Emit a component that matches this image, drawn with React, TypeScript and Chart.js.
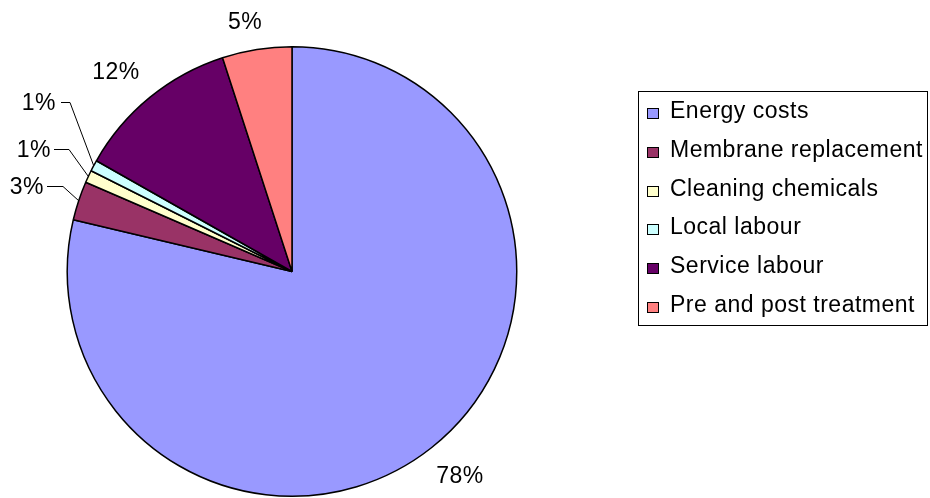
import React, { useEffect, useRef } from "react";
import { Chart, registerables } from "chart.js";

Chart.register(...registerables);

const categories = [
  "Energy costs",
  "Membrane replacement",
  "Cleaning chemicals",
  "Local labour",
  "Service labour",
  "Pre and post treatment",
];
const values = [78.7, 2.8, 0.9, 0.8, 11.8, 5.0];
const percentLabels = ["78%", "3%", "1%", "1%", "12%", "5%"];
const colors = ["#9999FF", "#993366", "#FFFFCC", "#CCFFFF", "#660066", "#FF8080"];

const FONT = '23px "Liberation Sans", Arial, sans-serif';

// label placement relative to pie centre (layout only)
const labelPlacement: Record<number, any> = {
  0: { dx: 168, dy: 211, align: "center" },
  1: { dx: -248, dy: -78, align: "right", lineStart: -245, elbow: -229 },
  2: { dx: -241, dy: -115, align: "right", lineStart: -238, elbow: -223 },
  3: { dx: -236, dy: -162, align: "right", lineStart: -231, elbow: -222 },
  4: { dx: -176, dy: -193, align: "center" },
  5: { dx: -47, dy: -243, align: "center" },
};

const labelPlugin = {
  id: "pctLabels",
  afterDatasetsDraw(chart: any) {
    const ctx = chart.ctx;
    const meta = chart.getDatasetMeta(0);
    ctx.save();
    ctx.font = FONT;
    try { (ctx as any).letterSpacing = "0.5px"; } catch (e) {}
    ctx.fillStyle = "#000";
    ctx.strokeStyle = "#000";
    ctx.lineWidth = 1;
    ctx.textBaseline = "alphabetic";
    meta.data.forEach((arc: any, i: number) => {
      const p = labelPlacement[i];
      if (!p) return;
      const cx = arc.x, cy = arc.y;
      const mid = (arc.startAngle + arc.endAngle) / 2;
      const r = arc.outerRadius;
      ctx.textAlign = p.align;
      ctx.fillText(percentLabels[i], cx + p.dx, cy + p.dy);
      if (p.elbow !== undefined) {
        const ly = Math.round(cy + p.dy - 8) + 0.5;
        ctx.beginPath();
        ctx.moveTo(cx + p.lineStart, ly);
        ctx.lineTo(cx + p.elbow, ly);
        ctx.lineTo(cx + Math.cos(mid) * r, cy + Math.sin(mid) * r);
        ctx.stroke();
      }
    });
    ctx.restore();
  },
};

const legendPlugin = {
  id: "boxLegend",
  afterDraw(chart: any) {
    const ctx = chart.ctx;
    ctx.save();
    ctx.strokeStyle = "#000";
    ctx.lineWidth = 1;
    ctx.strokeRect(638.5, 91.5, 289, 234);
    ctx.font = FONT;
    try { (ctx as any).letterSpacing = "0.5px"; } catch (e) {}
    ctx.textAlign = "left";
    ctx.textBaseline = "alphabetic";
    categories.forEach((name, i) => {
      const base = 118 + i * 38.8;
      const sy = Math.round(base - 10) + 0.5;
      ctx.fillStyle = colors[i];
      ctx.fillRect(647.5, sy, 11, 10);
      ctx.strokeRect(647.5, sy, 11, 10);
      ctx.fillStyle = "#000";
      ctx.fillText(name, 670, base);
    });
    ctx.restore();
  },
};

export default function App() {
  const ref = useRef<HTMLCanvasElement>(null);
  useEffect(() => {
    if (!ref.current) return;
    const chart = new Chart(ref.current, {
      type: "pie",
      data: {
        labels: categories,
        datasets: [
          {
            data: values,
            backgroundColor: colors,
            borderColor: "#000",
            borderWidth: 1.5,
            hoverOffset: 0,
            offset: 0,
          } as any,
        ],
      },
      options: {
        animation: false,
        responsive: false,
        maintainAspectRatio: false,
        layout: { padding: { left: 66, right: 412, top: 46, bottom: 1 } },
        plugins: {
          legend: { display: false },
          tooltip: { enabled: false },
        },
      },
      plugins: [labelPlugin, legendPlugin],
    });
    return () => chart.destroy();
  }, []);
  return (
    <div style={{ position: "fixed", left: 0, top: 0, width: 930, height: 498, background: "#fff" }}>
      <canvas ref={ref} width={930} height={498} style={{ width: 930, height: 498 }} />
    </div>
  );
}
